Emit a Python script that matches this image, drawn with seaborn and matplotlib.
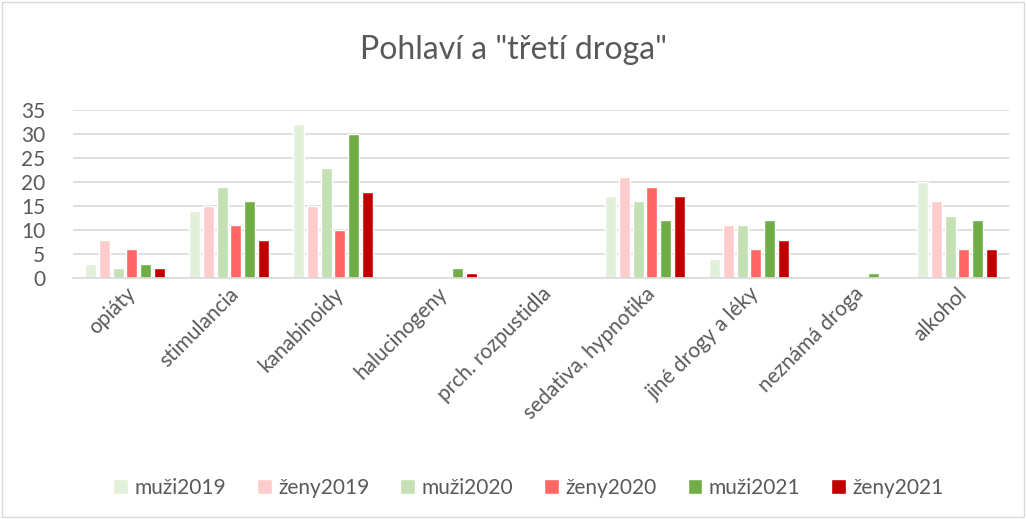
import pandas as pd
import matplotlib.pyplot as plt
import seaborn as sns
from matplotlib.patches import Rectangle

# kategorie drog
categories = ["opiáty", "stimulancia", "kanabinoidy", "halucinogeny",
              "prch. rozpustidla", "sedativa, hypnotika", "jiné drogy a léky",
              "neznámá droga", "alkohol"]

muzi2019 = [3, 14, 32, 0, 0, 17, 4, 0, 20]
zeny2019 = [8, 15, 15, 0, 0, 21, 11, 0, 16]
muzi2020 = [2, 19, 23, 0, 0, 16, 11, 0, 13]
zeny2020 = [6, 11, 10, 0, 0, 19, 6, 0, 6]
muzi2021 = [3, 16, 30, 2, 0, 12, 12, 1, 12]
zeny2021 = [2, 8, 18, 1, 0, 17, 8, 0, 6]

series_names = ["muži2019", "ženy2019", "muži2020", "ženy2020", "muži2021", "ženy2021"]
colors = ["#E2F0D9", "#FFCCCC", "#C5E0B4", "#FF6666", "#70AD47", "#C00000"]

data = {
    "muži2019": muzi2019, "ženy2019": zeny2019,
    "muži2020": muzi2020, "ženy2020": zeny2020,
    "muži2021": muzi2021, "ženy2021": zeny2021,
}
df = pd.DataFrame(data)
df["droga"] = categories
df = df.melt(id_vars="droga", var_name="skupina", value_name="pocet")

sns.set_theme(style="white")
plt.rcParams["font.family"] = ["Lato", "DejaVu Sans"]
text_color = "#595959"

fig = plt.figure(figsize=(10.26, 5.19), dpi=100)
ax = fig.add_axes([73 / 1026, 1 - 278 / 519, 936 / 1026, 168 / 519])

sns.barplot(data=df, x="droga", y="pocet", hue="skupina", hue_order=series_names,
            order=categories, palette=colors, width=0.8, gap=0.2,
            saturation=1, ax=ax, legend=True)

ax.set_ylim(0, 35)
ax.set_yticks(range(0, 36, 5))
ax.set_xlim(-0.5, len(categories) - 0.5)
ax.yaxis.grid(True, color="#D9D9D9", linewidth=1.2)
ax.set_axisbelow(True)
for s in ["top", "right", "left"]:
    ax.spines[s].set_visible(False)
ax.spines["bottom"].set_color("#D9D9D9")
ax.spines["bottom"].set_linewidth(1.2)
ax.set_xlabel("")
ax.set_ylabel("")
ax.tick_params(axis="both", length=0, labelsize=15, colors=text_color, pad=4)
ax.yaxis.set_tick_params(pad=20)
plt.setp(ax.get_xticklabels(), rotation=45, ha="right", rotation_mode="anchor")

fig.text(0.5, 1 - 50 / 519, 'Pohlaví a "třetí droga"', ha="center", va="center",
         fontsize=23, color=text_color)

handles, labels = ax.get_legend_handles_labels()
ax.legend_.remove()
fig.legend(handles, labels, loc="center", bbox_to_anchor=(0.515, 1 - 488 / 519),
           ncol=6, frameon=False, fontsize=15, labelcolor=text_color,
           handlelength=0.7, handleheight=0.7, handletextpad=0.3, columnspacing=1.5)

fig.patches.append(Rectangle((2 / 1026, 2 / 519), 1 - 4 / 1026, 1 - 4 / 519,
                             transform=fig.transFigure, fill=False,
                             edgecolor="#D9D9D9", linewidth=1))

fig.savefig("out.png", dpi=100)
